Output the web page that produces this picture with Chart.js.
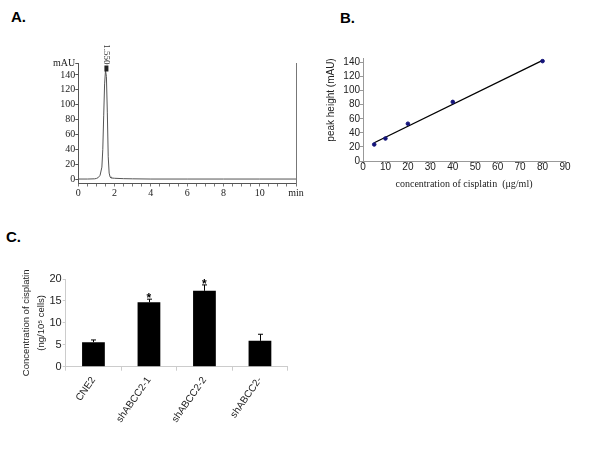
<!DOCTYPE html>
<html><head><meta charset="utf-8">
<script src="https://cdn.jsdelivr.net/npm/chart.js@4/dist/chart.umd.min.js"></script>
<style>
html,body{margin:0;padding:0;background:#fff;}
#wrap{position:relative;width:600px;height:450px;overflow:hidden;background:#fff;}
canvas{position:absolute;}
.lbl{position:absolute;font:bold 15px "Liberation Sans",Arial,sans-serif;line-height:15px;color:#000;}
</style></head><body>
<div id="wrap">
<div class="lbl" style="left:11px;top:9px">A.</div>
<div class="lbl" style="left:340px;top:10px">B.</div>
<div class="lbl" style="left:6px;top:229px">C.</div>
<canvas id="cA" width="310" height="180" style="left:0;top:30px"></canvas>
<canvas id="cB" width="290" height="180" style="left:310px;top:30px"></canvas>
<canvas id="cC" width="310" height="220" style="left:0;top:230px"></canvas>
</div>
<script>
// ---------- Panel A: chromatogram ----------
const retentionTime = [0, 0.5, 0.9, 1.0, 1.1, 1.2, 1.3, 1.35, 1.4, 1.45, 1.5, 1.55, 1.6, 1.65, 1.7, 1.75, 1.8, 2.0, 2.5, 3.0, 4.0, 6.0, 8.0, 10.0, 12.0];
const absorbance    = [0, 0, 0.3, 0.8, 2, 5, 16, 40, 85, 128, 146, 138, 90, 30, 8, 3, 1.5, 1, 0.5, 0.3, 0, 0, 0, 0, 0];
const peakTime = 1.55;
const peakLabel = '1.550';
const timeTickValues = [0, 2, 4, 6, 8, 10, 12];
const timeTickLabels = ['0', '2', '4', '6', '8', '10', 'min'];
const mauTickValues = [0, 20, 40, 60, 80, 100, 120, 140, 155];
const mauTickLabels = ['0', '20', '40', '60', '80', '100', '120', '140', 'mAU'];

// ---------- Panel B: calibration ----------
const concentration = [5, 10, 20, 40, 80];
const peakHeights   = [23.5, 32, 53, 84, 142];
const fitX = [5, 80];
const fitY = [26, 143];
const concTicks = [0, 10, 20, 30, 40, 50, 60, 70, 80, 90];
const heightTicks = [0, 20, 40, 60, 80, 100, 120, 140];

// ---------- Panel C: bars ----------
const cellLines = ['CNE2', 'shABCC2-1', 'shABCC2-2', 'shABCC2-'];
const cisplatinConc = [5.6, 14.7, 17.3, 5.9];
const concError = [0.5, 0.7, 1.35, 1.5];
const significant = [false, true, true, false];
const cTicks = [0, 5, 10, 15, 20];

const serif = '"Liberation Serif","Times New Roman",serif';
const sans = '"Liberation Sans",Arial,sans-serif';

const minorTimeTicks = [];
for (let i = 0; i <= 24; i++) minorTimeTicks.push(i / 2);

const peakPlugin = {
  id: 'peak',
  afterDraw(chart) {
    const {ctx, scales: {x, y}} = chart;
    const px = x.getPixelForValue(peakTime);
    const py = y.getPixelForValue(Math.max(...absorbance));
    ctx.save();
    ctx.fillStyle = '#222';
    ctx.fillRect(px - 2, py - 5, 4, 6);
    ctx.translate(px, py - 6);
    ctx.rotate(Math.PI / 2);
    ctx.font = '9px ' + serif;
    ctx.textAlign = 'right';
    ctx.textBaseline = 'middle';
    ctx.fillStyle = '#333';
    ctx.fillText(peakLabel, 0, 0);
    ctx.restore();
  }
};

new Chart(document.getElementById('cA'), {
  type: 'scatter',
  data: {datasets: [{
    data: retentionTime.map((t, i) => ({x: t, y: absorbance[i]})),
    showLine: true, borderColor: '#555', borderWidth: 1, pointRadius: 0, tension: 0
  }]},
  options: {
    responsive: false, animation: false, events: [],
    layout: {padding: {top: 33.8, right: 14, left: 0, bottom: 0}},
    plugins: {legend: {display: false}, tooltip: {enabled: false}},
    scales: {
      x: {
        type: 'linear', min: 0, max: 12,
        afterFit: s => { s.height = 26.5; },
        afterBuildTicks: s => { s.ticks = minorTimeTicks.map(v => ({value: v})); },
        ticks: {autoSkip: false, maxRotation: 0, padding: 1, color: '#222',
          font: {family: serif, size: 10},
          callback: v => { const i = timeTickValues.indexOf(v); return i >= 0 ? timeTickLabels[i] : ''; }},
        grid: {drawOnChartArea: false, tickLength: 3, color: '#777'},
        border: {color: '#555', dash: [3, 1]}
      },
      y: {
        min: -6, max: 155,
        afterFit: s => { s.width = 78.3; },
        afterBuildTicks: s => { s.ticks = mauTickValues.map(v => ({value: v})); },
        ticks: {autoSkip: false, padding: 0, color: '#222', font: {family: serif, size: 10},
          callback: v => { const i = mauTickValues.indexOf(v); return i >= 0 ? mauTickLabels[i] : ''; }},
        grid: {drawOnChartArea: false, tickLength: 3, color: '#555'},
        border: {color: '#555'}
      },
      y2: {
        position: 'right', min: -6, max: 155,
        afterFit: s => { s.width = 0; },
        ticks: {display: false}, grid: {display: false},
        border: {display: true, color: '#777'}
      }
    }
  },
  plugins: [peakPlugin]
});

new Chart(document.getElementById('cB'), {
  type: 'scatter',
  data: {datasets: [
    {data: concentration.map((c, i) => ({x: c, y: peakHeights[i]})),
     pointRadius: 1.8, pointBackgroundColor: '#14147a', pointBorderColor: '#14147a', showLine: false},
    {data: fitX.map((c, i) => ({x: c, y: fitY[i]})),
     showLine: true, borderColor: '#000', borderWidth: 1.3, pointRadius: 0}
  ]},
  options: {
    responsive: false, animation: false, events: [],
    layout: {padding: {top: 28.3, right: 35, left: 15.7, bottom: 0}},
    plugins: {legend: {display: false}, tooltip: {enabled: false}},
    scales: {
      x: {
        type: 'linear', min: 0, max: 90,
        afterFit: s => { s.height = 49; },
        afterBuildTicks: s => { s.ticks = concTicks.map(v => ({value: v})); },
        ticks: {autoSkip: false, maxRotation: 0, padding: -3, color: '#222', font: {family: sans, size: 10}},
        grid: {drawOnChartArea: false, tickLength: 3, color: '#999'},
        border: {color: '#999'},
        title: {display: true, text: 'concentration of cisplatin  (\u03bcg/ml)', color: '#222',
          font: {family: serif, size: 10}, padding: {top: 0, bottom: 20}}
      },
      y: {
        min: 0, max: 146,
        afterFit: s => { s.width = 37.3; },
        afterBuildTicks: s => { s.ticks = heightTicks.map(v => ({value: v})); },
        ticks: {autoSkip: false, padding: 0, color: '#222', font: {family: sans, size: 10}},
        grid: {drawOnChartArea: false, tickLength: 3, color: '#999'},
        border: {color: '#999'},
        title: {display: true, text: 'peak height (mAU)', align: 'end', color: '#222',
          font: {family: sans, size: 10}, padding: 0}
      }
    }
  }
});

const errorPlugin = {
  id: 'errs',
  afterDatasetsDraw(chart) {
    const {ctx, scales: {y}} = chart;
    const meta = chart.getDatasetMeta(0);
    ctx.save();
    ctx.strokeStyle = '#000';
    ctx.lineWidth = 1;
    ctx.fillStyle = '#000';
    meta.data.forEach((bar, i) => {
      const x = Math.round(bar.x) + 0.5;
      const top = y.getPixelForValue(cisplatinConc[i] + concError[i]);
      const base = y.getPixelForValue(cisplatinConc[i]);
      ctx.beginPath();
      ctx.moveTo(x, base); ctx.lineTo(x, top);
      ctx.moveTo(x - 2.5, top); ctx.lineTo(x + 2.5, top);
      ctx.stroke();
      if (significant[i]) {
        ctx.font = 'bold 12px ' + sans;
        ctx.textAlign = 'center';
        ctx.textBaseline = 'alphabetic';
        ctx.fillText('*', bar.x, top + 3);
      }
    });
    ctx.restore();
  }
};

new Chart(document.getElementById('cC'), {
  type: 'bar',
  data: {labels: cellLines, datasets: [{
    data: cisplatinConc, backgroundColor: '#000', borderWidth: 0,
    barPercentage: 0.41, categoryPercentage: 1
  }]},
  options: {
    responsive: false, animation: false, events: [],
    layout: {padding: {top: 49, right: 22.3, left: 18.4, bottom: 0}},
    plugins: {legend: {display: false}, tooltip: {enabled: false}},
    scales: {
      x: {
        afterFit: s => { s.height = 83.3; },
        ticks: {autoSkip: false, minRotation: 55, maxRotation: 55, padding: 4, color: '#222',
          font: {family: sans, size: 10}},
        grid: {drawOnChartArea: false, tickLength: 4, color: '#ccc', offset: true},
        border: {color: '#ccc'}
      },
      y: {
        min: 0, max: 20,
        afterFit: s => { s.width = 47.3; },
        afterBuildTicks: s => { s.ticks = cTicks.map(v => ({value: v})); },
        ticks: {autoSkip: false, padding: 1, color: '#222', font: {family: sans, size: 11}},
        grid: {drawOnChartArea: false, tickLength: 3, color: '#ccc'},
        border: {color: '#ccc'},
        title: {display: true, text: ['Concentration of cisplatin', '(ng/10\u2075 cells)'], color: '#222',
          font: {family: sans, size: 9.5, lineHeight: 1.6}, padding: 0}
      }
    }
  },
  plugins: [errorPlugin]
});
</script>
</body></html>
